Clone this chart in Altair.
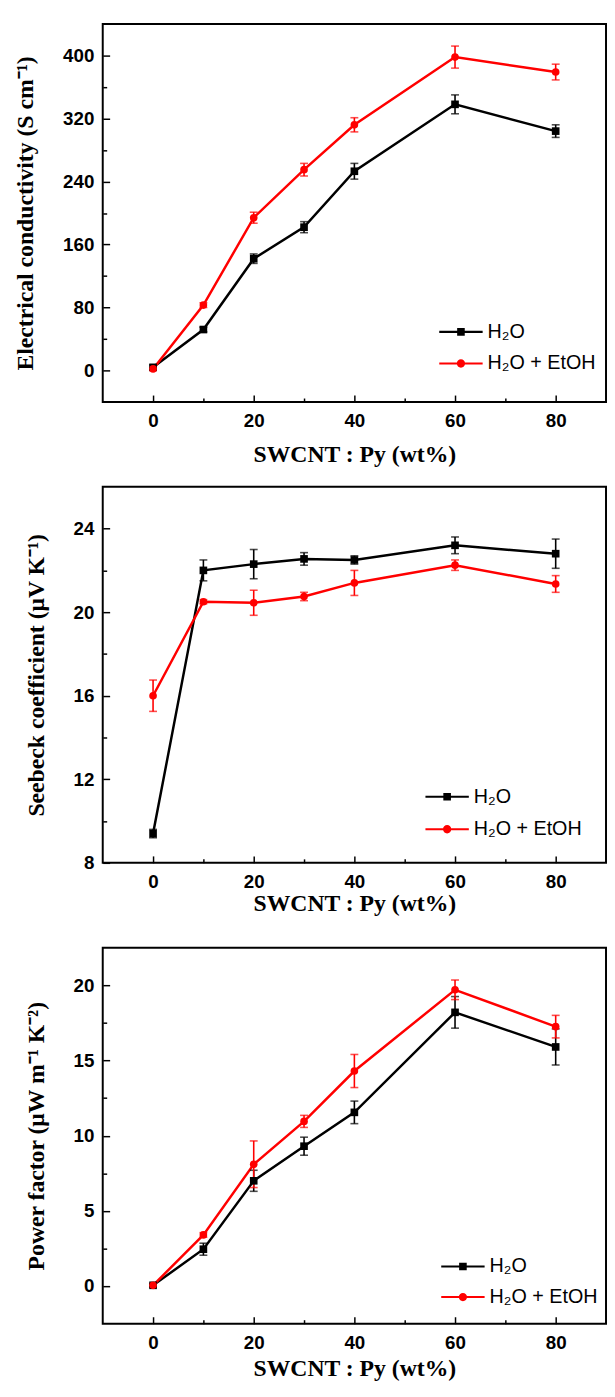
import altair as alt
import pandas as pd

# ---------------- data ----------------
x_pct = [0, 10, 20, 30, 40, 60, 80]
series_names = ["H₂O", "H₂O + EtOH"]
series_colors = ["#000000", "#ff0000"]

cond_h2o = [4, 52, 142, 182, 253, 338, 304]
cond_h2o_err = [3, 3, 6, 7, 10, 12, 8]
cond_etoh = [2, 83, 194, 255, 312, 398, 379]
cond_etoh_err = [2, 3, 7, 8, 9, 14, 10]

seeb_h2o = [9.4, 22.0, 22.3, 22.55, 22.5, 23.2, 22.8]
seeb_h2o_err = [0.2, 0.5, 0.7, 0.3, 0.2, 0.4, 0.7]
seeb_etoh = [16.0, 20.5, 20.45, 20.75, 21.4, 22.25, 21.35]
seeb_etoh_err = [0.75, 0.1, 0.6, 0.2, 0.6, 0.25, 0.4]

pf_h2o = [0.05, 2.45, 7.0, 9.3, 11.55, 18.2, 15.9]
pf_h2o_err = [0.1, 0.4, 0.7, 0.6, 0.75, 1.05, 1.2]
pf_etoh = [0.05, 3.4, 8.1, 10.95, 14.3, 19.7, 17.25]
pf_etoh_err = [0.1, 0.15, 1.55, 0.4, 1.1, 0.65, 0.75]

x_major = [0, 20, 40, 60, 80]
x_minor = [10, 30, 50, 70]
cond_major = [0, 80, 160, 240, 320, 400]
cond_minor = [40, 120, 200, 280, 360]
seeb_major = [8, 12, 16, 20, 24]
seeb_minor = [10, 14, 18, 22]
pf_major = [0, 5, 10, 15, 20]
pf_minor = [2.5, 7.5, 12.5, 17.5]

x_title = "SWCNT : Py (wt%)"

# legend symbols: line with a square / circle in the middle
sym_square = "M-3.14,-0.15H3.14V0.15H-3.14ZM-0.55,-0.55H0.55V0.55H-0.55Z"
sym_circle = ("M-3.14,-0.15H3.14V0.15H-3.14ZM0.6,0A0.6,0.6 0 1,1 -0.6,0"
              "A0.6,0.6 0 1,1 0.6,0Z")


def make_df(a, ea, b, eb):
    rows = []
    for name, vals, errs in ((series_names[0], a, ea), (series_names[1], b, eb)):
        for xi, v, e in zip(x_pct, vals, errs):
            rows.append({"x": xi, "y": v, "lo": v - e, "hi": v + e, "s": name})
    return pd.DataFrame(rows)


LABEL_FONT = "Liberation Sans"
TITLE_FONT = "Liberation Serif"


def panel(df, ytitle, ydomain, ymajor, yminor, legend_xy, row_pad, x_title_pad,
          y_title_pad, height):
    xs = alt.Scale(domain=[-10, 90], nice=False, zero=False)
    ys = alt.Scale(domain=ydomain, nice=False, zero=False)
    color_scale = alt.Scale(domain=series_names, range=series_colors)

    # inward ticks: the axis line is moved inside by the tick length
    ax_x_major = alt.Axis(values=x_major, orient="bottom", offset=-7, tickSize=7,
                          tickWidth=1.5, tickColor="black", domain=False, grid=False,
                          labelPadding=10, labelFlush=False, title=x_title,
                          titlePadding=x_title_pad, zindex=1)
    ax_x_minor = alt.Axis(values=x_minor, orient="bottom", offset=-4, tickSize=4,
                          tickWidth=1.5, tickColor="black", domain=False, grid=False,
                          labels=False, title=None, zindex=1)
    ax_y_major = alt.Axis(values=ymajor, orient="left", offset=-7, tickSize=7,
                          tickWidth=1.5, tickColor="black", domain=False, grid=False,
                          labelPadding=9, labelFlush=False, title=ytitle,
                          titlePadding=y_title_pad, zindex=1)
    ax_y_minor = alt.Axis(values=yminor, orient="left", offset=-4, tickSize=4,
                          tickWidth=1.5, tickColor="black", domain=False, grid=False,
                          labels=False, title=None, zindex=1)

    def enc(xaxis, yaxis, yfield="y"):
        return dict(x=alt.X("x:Q", scale=xs, axis=xaxis),
                    y=alt.Y(f"{yfield}:Q", scale=ys, axis=yaxis))

    layers = []
    for i, (name, col) in enumerate(zip(series_names, series_colors)):
        sub = alt.Chart(df).transform_filter(alt.datum.s == name)
        e = enc(ax_x_major, ax_y_major) if i == 0 else enc(None, None)
        layers.append(sub.mark_line(color=col, strokeWidth=2.5).encode(**e))
    for name, col in zip(series_names, series_colors):
        sub = alt.Chart(df).transform_filter(alt.datum.s == name)
        layers.append(sub.mark_errorbar(color=col, ticks=True, size=8, thickness=1.6).encode(
            y2="hi:Q", **enc(None, None, "lo")))
    sq = alt.Chart(df).transform_filter(alt.datum.s == series_names[0]).mark_square(
        color=series_colors[0], size=60, opacity=1).encode(**enc(ax_x_minor, ax_y_minor))
    ci = alt.Chart(df).transform_filter(alt.datum.s == series_names[1]).mark_circle(
        color=series_colors[1], size=60, opacity=1).encode(**enc(None, None))
    layers += [sq, ci]

    leg = alt.Legend(orient="none", legendX=legend_xy[0], legendY=legend_xy[1], title=None,
                     direction="vertical", padding=0, symbolSize=196, symbolStrokeWidth=0,
                     labelFont=LABEL_FONT, labelFontSize=20, labelColor="black",
                     labelOffset=17, rowPadding=row_pad)
    legend_layer = alt.Chart(df).transform_filter("false").mark_point(
        filled=True, opacity=1, strokeWidth=0
    ).encode(
        color=alt.Color("s:N", scale=color_scale, legend=leg),
        shape=alt.Shape("s:N", scale=alt.Scale(domain=series_names,
                                               range=[sym_square, sym_circle]), legend=leg),
        **enc(None, None),
    )
    layers.append(legend_layer)
    return alt.layer(*layers).resolve_axis(x="independent", y="independent").properties(
        width=510, height=height)


df1 = make_df(cond_h2o, cond_h2o_err, cond_etoh, cond_etoh_err)
df2 = make_df(seeb_h2o, seeb_h2o_err, seeb_etoh, seeb_etoh_err)
df3 = make_df(pf_h2o, pf_h2o_err, pf_etoh, pf_etoh_err)

p1 = panel(df1, "Electrical conductivity  (S cm⁻¹)", [-40, 440], cond_major, cond_minor,
           (353, 302), 12, 12, 25, 383)
p2 = panel(df2, "Seebeck coefficient  (μV K⁻¹)", [8, 26], seeb_major, seeb_minor,
           (339, 304), 13, 0, 25, 381)
p3 = panel(df3, "Power factor  (μW m⁻¹ K⁻²)", [-2.5, 22.5], pf_major, pf_minor,
           (355, 313), 11, 5, 25, 381)

chart = alt.vconcat(p1, p2, p3, spacing=86, bounds="flush").resolve_scale(
    color="independent", shape="independent"
).resolve_legend(
    color="independent", shape="independent"
).properties(
    padding={"left": 5, "top": 6, "right": 0, "bottom": 0}
).configure_view(
    stroke="black", strokeWidth=2
).configure_axis(
    labelFont=LABEL_FONT, labelFontSize=19, labelFontWeight="bold", labelColor="black",
    titleFont=TITLE_FONT, titleFontWeight="bold", titleColor="black",
    tickColor="black",
).configure_axisX(
    titleFontSize=24
).configure_axisY(
    titleFontSize=24
)

chart.save("out.html", embed_options={"renderer": "svg", "actions": False})
